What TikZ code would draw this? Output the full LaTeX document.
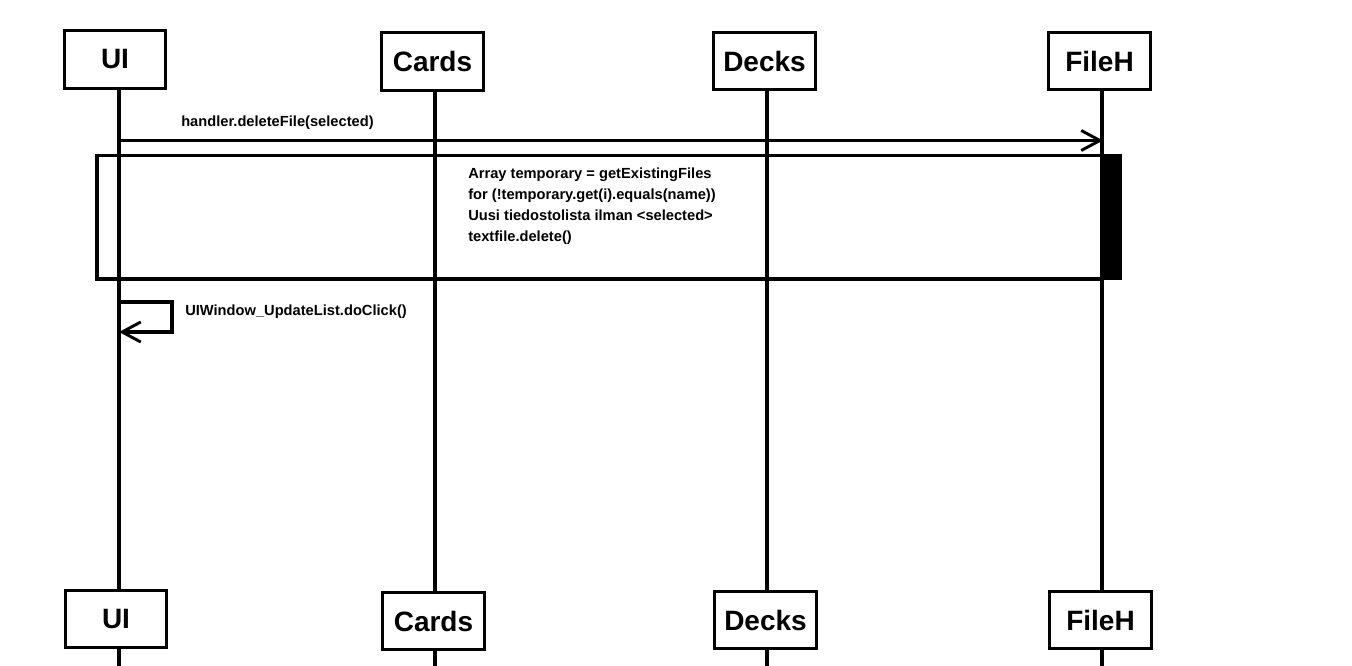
\documentclass[tikz,border=0pt]{standalone}
\usepackage{fontspec}
\setmainfont{Liberation Sans}
\usetikzlibrary{arrows.meta}
\tikzset{
	obj/.style={draw, line width=2.3pt, fill=white, inner sep=0pt,
			minimum width=76pt, minimum height=43pt,
			font=\bfseries\fontsize{21}{24}\selectfont},
	life/.style={line width=2.3pt},
	msg/.style={line width=2.3pt, -{Straight Barb[length=14pt,width=15pt,line width=2.2pt]}},
	lbl/.style={anchor=west, inner sep=0pt, align=left, font=\bfseries\fontsize{11}{15.75}\selectfont}
}

\begin{document}
\begin{tikzpicture}[x=0.75pt,y=-0.75pt]
        \useasboundingbox (0,0) rectangle (1352,666);
        % lifeline positions
        \coordinate (ui_l) at (119, 0);
        \coordinate (cards_l) at (435, 0);
        \coordinate (decks_l) at (767, 0);
        \coordinate (fileh_l) at (1102, 0);
        \coordinate (bottom) at (0, 666);
        % objects, top row
        \node[obj] (ui) at (115, 59.5) {UI};
        \node[obj] (cards) at (432.5, 61.5) {Cards};
        \node[obj] (decks) at (764.5, 61) {Decks};
        \node[obj] (fileh) at (1099.5, 61) {FileH};
        % objects, bottom row
        \node[obj] (ui_b) at (116, 619) {UI};
        \node[obj] (cards_b) at (433.5, 621) {Cards};
        \node[obj] (decks_b) at (765.5, 620) {Decks};
        \node[obj] (fileh_b) at (1100.5, 620) {FileH};
        % lifelines
        \draw[life] (ui.south -| ui_l) -- (ui_b.north -| ui_l);
        \draw[life] (cards.south -| cards_l) -- (cards_b.north -| cards_l);
        \draw[life] (decks.south -| decks_l) -- (decks_b.north -| decks_l);
        \draw[life] (fileh.south -| fileh_l) -- (fileh_b.north -| fileh_l);
        \draw[life] (ui_b.south -| ui_l) -- (bottom -| ui_l);
        \draw[life] (cards_b.south -| cards_l) -- (bottom -| cards_l);
        \draw[life] (decks_b.south -| decks_l) -- (bottom -| decks_l);
        \draw[life] (fileh_b.south -| fileh_l) -- (bottom -| fileh_l);
        % deleteFile call
        \coordinate (del_s) at (119, 140.5);
        \coordinate (del_e) at (1103, 140.5);
        \draw[msg] (del_s) -- (del_e);
        \node[lbl] (del_lbl) at (181, 123) {handler.deleteFile(selected)};
        % frame and activation
        \draw[life] (97, 155.5) rectangle (1102, 279);
        \fill[black] (1101, 154) rectangle (1121.5, 280.5);
        \node[lbl, anchor=north west] (steps) at (468, 168) {Array temporary = getExistingFiles\\
                for (!temporary.get(i).equals(name))\\
                Uusi tiedostolista ilman <selected>\\
                textfile.delete()};
        % self call on UI
        \coordinate (upd_s) at (119, 302);
        \coordinate (upd_e) at (119, 332);
        \draw[msg] (upd_s) -- ++(53, 0) |- (upd_e);
        \node[lbl] (upd_lbl) at (185, 312) {UIWindow\_UpdateList.doClick()};
\end{tikzpicture}
\end{document}
